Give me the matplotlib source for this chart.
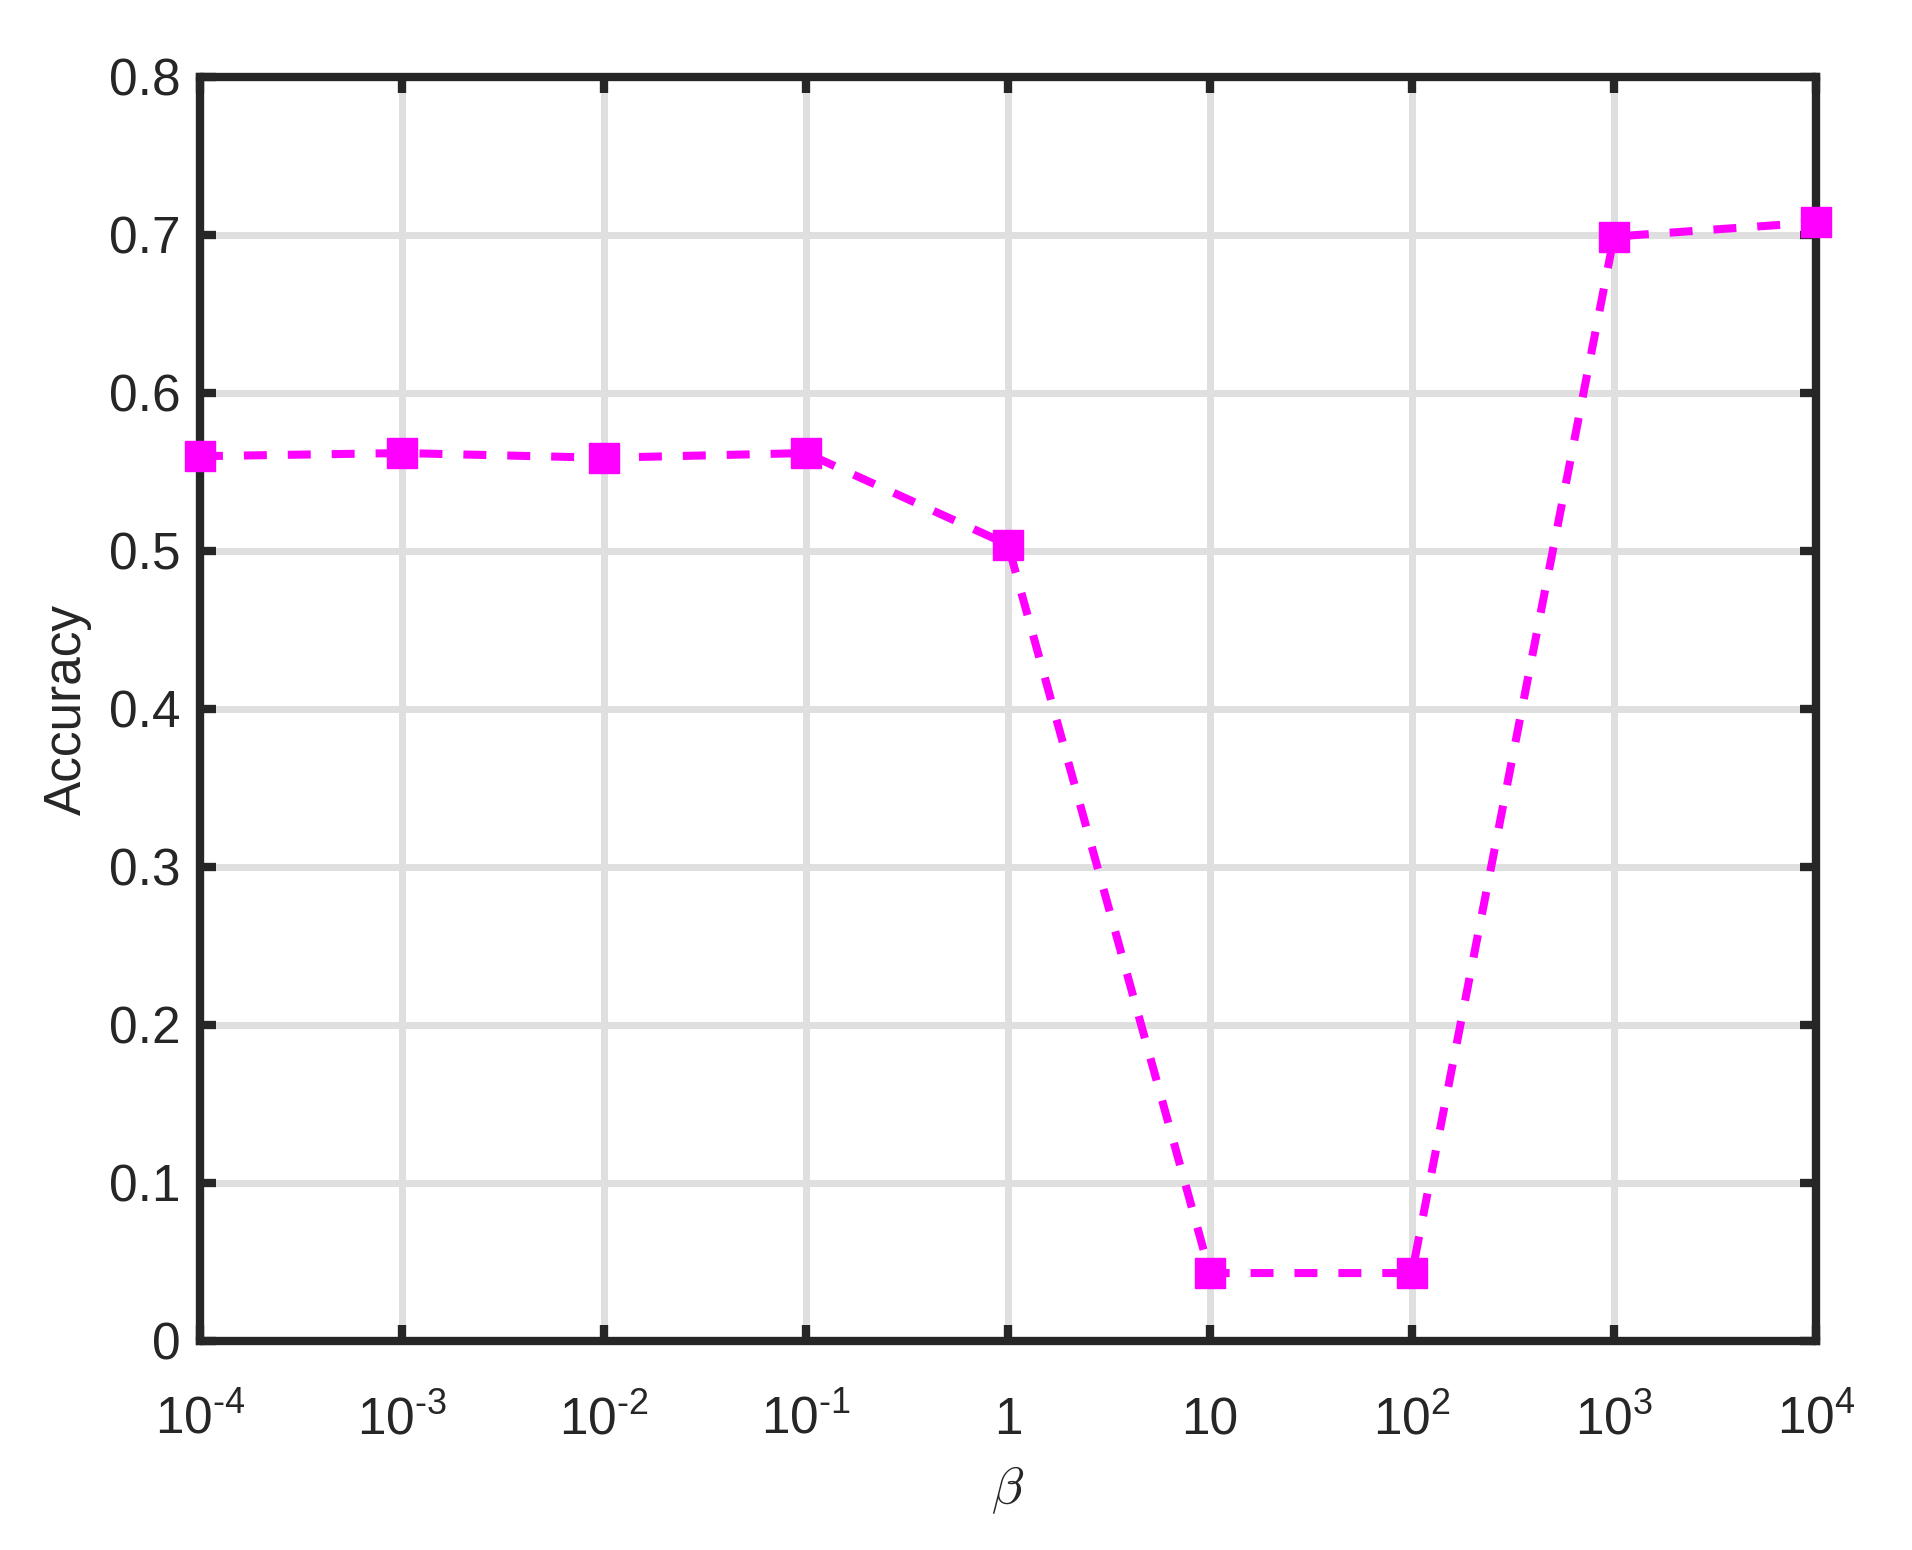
import matplotlib
matplotlib.use("Agg")
import matplotlib.pyplot as plt
from matplotlib.ticker import FixedLocator, FixedFormatter, NullLocator

beta = [1e-4, 1e-3, 1e-2, 1e-1, 1, 10, 1e2, 1e3, 1e4]
accuracy = [0.560, 0.562, 0.559, 0.562, 0.504, 0.043, 0.043, 0.699, 0.708]
xtick_labels = [r'$10^{\text{-}4}$', r'$10^{\text{-}3}$', r'$10^{\text{-}2}$',
                r'$10^{\text{-}1}$', '1', '10', '$10^{2}$', '$10^{3}$', '$10^{4}$']
yticks = [0, 0.1, 0.2, 0.3, 0.4, 0.5, 0.6, 0.7, 0.8]
ytick_labels = ['0', '0.1', '0.2', '0.3', '0.4', '0.5', '0.6', '0.7', '0.8']

plt.rcParams['font.family'] = ['Liberation Sans', 'DejaVu Sans']
plt.rcParams['mathtext.fontset'] = 'custom'
plt.rcParams['mathtext.rm'] = 'Liberation Sans'
plt.rcParams['mathtext.it'] = 'Liberation Sans:italic'

dark = '#262626'
W, H = 1912, 1550
fig = plt.figure(figsize=(W / 100, H / 100), dpi=100)
ax = fig.add_axes([200 / W, 1 - 1341 / H, (1816 - 200) / W, (1341 - 77) / H])

ax.set_xscale('log')
ax.plot(beta, accuracy, linestyle=(0, (2.85, 2.6)), color='#ff00ff', linewidth=5.8,
        marker='s', markersize=21, markerfacecolor='#ff00ff',
        markeredgecolor='#ff00ff', markeredgewidth=1, zorder=3, clip_on=False)

ax.set_xlim(1e-4, 1e4)
ax.set_ylim(0, 0.8)
ax.xaxis.set_major_locator(FixedLocator(beta))
ax.xaxis.set_major_formatter(FixedFormatter(xtick_labels))
ax.xaxis.set_minor_locator(NullLocator())
ax.set_yticks(yticks)
ax.set_yticklabels(ytick_labels)

ax.grid(True, color='#dfdfdf', linewidth=5, zorder=0)
ax.set_axisbelow(True)
for s in ax.spines.values():
    s.set_linewidth(6)
    s.set_color(dark)
ax.tick_params(axis='both', which='major', direction='in', length=11.5, width=6,
               color=dark, labelcolor=dark, labelsize=37, top=True, right=True)
ax.tick_params(axis='x', pad=67)
ax.tick_params(axis='y', pad=14)
for lbl in ax.get_xticklabels():
    lbl.set_verticalalignment('baseline')

ax.set_xlabel(r'$\beta$', fontsize=38, color=dark, labelpad=14,
              math_fontfamily='cm')
ax.set_ylabel('Accuracy', fontsize=37, color=dark, labelpad=12)

fig.savefig('out.png', dpi=100, facecolor='white')
